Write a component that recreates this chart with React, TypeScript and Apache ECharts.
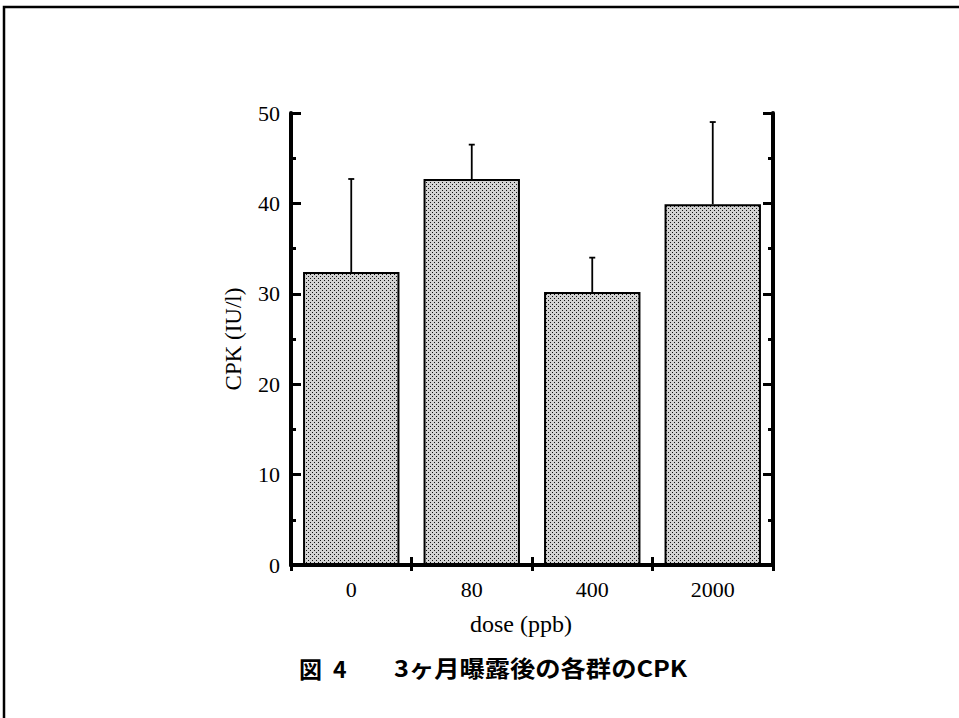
import React, { useEffect, useRef } from "react";
import * as echarts from "echarts";

const categories = ["0", "80", "400", "2000"];
const means = [32.4, 42.7, 30.2, 39.9];
const errorTops = [42.7, 46.5, 34.0, 49.0];
const yTicks = [0, 10, 20, 30, 40, 50];

function makePattern(): HTMLCanvasElement {
  const c = document.createElement("canvas");
  c.width = 4;
  c.height = 4;
  const ctx = c.getContext("2d")!;
  ctx.fillStyle = "#d2d2d2";
  ctx.fillRect(0, 0, 4, 4);
  ctx.fillStyle = "#111";
  ctx.fillRect(0, 0, 1, 1);
  ctx.fillRect(2, 2, 1, 1);
  return c;
}

export default function App() {
  const ref = useRef<HTMLDivElement>(null);
  useEffect(() => {
    if (!ref.current) return;
    const chart = echarts.init(ref.current, null, { renderer: "svg" });
    const serif = "'Liberation Serif', 'Times New Roman', serif";
    const axisLine = { show: true, lineStyle: { color: "#000", width: 4 } };
    const pattern = makePattern();
    const yBase = {
      type: "value" as const,
      min: yTicks[0],
      max: yTicks[yTicks.length - 1],
      interval: 10,
      axisLine,
      splitLine: { show: false },
      axisTick: { show: true, inside: true, length: 10, lineStyle: { color: "#000", width: 3 } },
      minorTick: { show: true, splitNumber: 2, length: 5, lineStyle: { color: "#000", width: 3 } },
    };
    chart.setOption({
      animation: false,
      backgroundColor: "#fff",
      grid: { left: 291, right: 186, top: 113, bottom: 153 },
      xAxis: [
        {
          type: "category",
          data: categories,
          position: "bottom",
          axisLine,
          axisTick: { show: true, inside: true, length: 8, lineStyle: { color: "#000", width: 3 } },
          axisLabel: { color: "#000", fontFamily: serif, fontSize: 22, margin: 13 },
          name: "dose (ppb)",
          nameLocation: "middle",
          nameGap: 47,
          nameTextStyle: { color: "#000", fontFamily: serif, fontSize: 24, padding: [0, 22, 0, 0] },
        },
        {
          type: "category",
          data: categories,
          position: "top",
          axisLine,
          axisTick: { show: true, inside: true, length: 6, lineStyle: { color: "#000", width: 3 } },
          axisLabel: { show: false },
        },
      ],
      yAxis: [
        {
          ...yBase,
          position: "left",
          axisLabel: { color: "#000", fontFamily: serif, fontSize: 22, margin: 11 },
          name: "CPK (IU/l)",
          nameLocation: "middle",
          nameGap: 46,
          nameTextStyle: { color: "#000", fontFamily: serif, fontSize: 23 },
        },
        {
          ...yBase,
          position: "right",
          axisLabel: { show: false },
        },
      ],
      series: [
        {
          type: "bar",
          data: means,
          xAxisIndex: 0,
          yAxisIndex: 0,
          barCategoryGap: "20%",
          itemStyle: {
            color: { image: pattern, repeat: "repeat" } as any,
            borderColor: "#000",
            borderWidth: 2,
          },
        },
        {
          type: "custom",
          xAxisIndex: 0,
          yAxisIndex: 0,
          data: categories.map((_, i) => [i, means[i], errorTops[i]]),
          renderItem: (params: any, api: any) => {
            const i = api.value(0);
            const base = api.coord([i, api.value(1)]);
            const top = api.coord([i, api.value(2)]);
            const style = { stroke: "#000", lineWidth: 1.8 };
            return {
              type: "group",
              children: [
                { type: "line", shape: { x1: top[0], y1: base[1], x2: top[0], y2: top[1] }, style },
                { type: "line", shape: { x1: top[0] - 3, y1: top[1], x2: top[0] + 3, y2: top[1] }, style },
              ],
            };
          },
          z: 3,
        },
      ],
      graphic: [
        {
          type: "polyline",
          shape: { points: [[4, 718], [4, 7], [959, 7]] },
          style: { stroke: "#000", lineWidth: 2.5, fill: "none" },
        },
        {
          type: "text",
          left: 299,
          top: 656,
          style: { text: "図", font: "bold 23px 'Noto Sans CJK JP'", fill: "#000" },
        },
        {
          type: "text",
          left: 333,
          top: 656,
          style: { text: "4", font: "bold 23px 'Noto Sans CJK JP'", fill: "#000" },
        },
        {
          type: "text",
          left: 394,
          top: 656,
          scaleX: 1.1,
          style: { text: "3ヶ月曝露後の各群のCPK", font: "bold 23px 'Noto Sans CJK JP'", fill: "#000" },
        },
      ],
    });
    return () => chart.dispose();
  }, []);
  return (
    <div
      ref={ref}
      style={{ position: "fixed", left: 0, top: 0, width: 959, height: 718, background: "#fff" }}
    />
  );
}
